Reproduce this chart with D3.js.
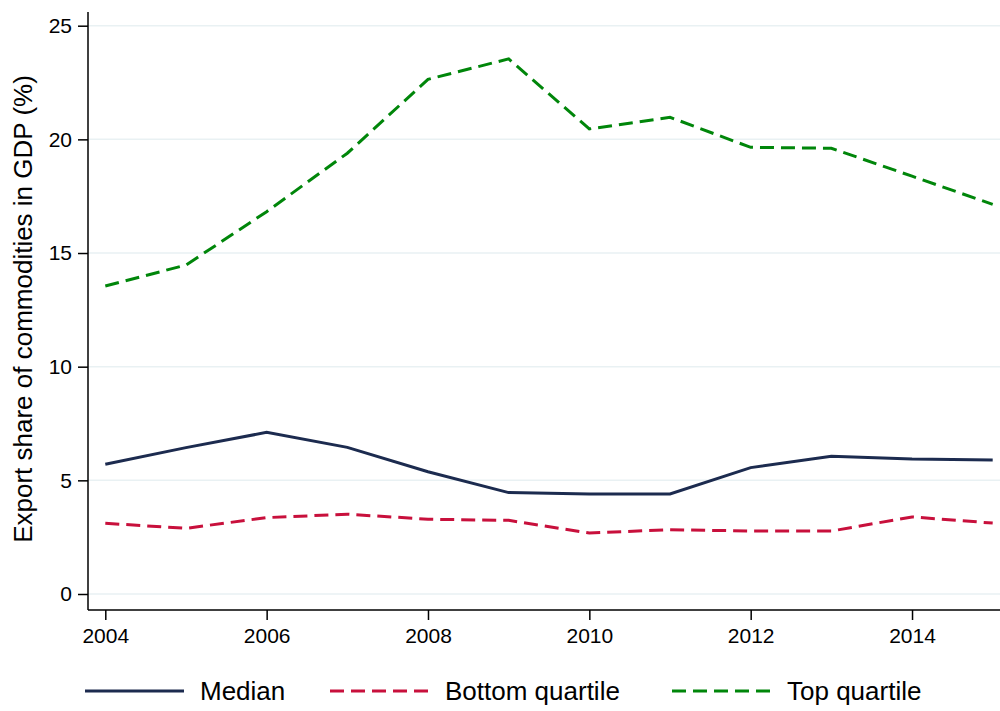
<!DOCTYPE html>
<html>
<head>
<meta charset="utf-8">
<script src="https://cdn.jsdelivr.net/npm/d3@7"></script>
<style>
  body { margin: 0; background: #fff; }
  text { font-family: "Liberation Sans", Arial, Helvetica, sans-serif; }
</style>
</head>
<body>
<script>
// chart data
let years = [2004, 2005, 2006, 2007, 2008, 2009, 2010, 2011, 2012, 2013, 2014, 2015]
let median = [5.71, 6.44, 7.11, 6.45, 5.38, 4.46, 4.40, 4.40, 5.56, 6.06, 5.94, 5.90]
let bottomQuartile = [3.11, 2.89, 3.36, 3.51, 3.29, 3.24, 2.68, 2.83, 2.77, 2.77, 3.39, 3.12]
let topQuartile = [13.55, 14.47, 16.82, 19.39, 22.64, 23.54, 20.46, 20.97, 19.65, 19.61, 18.38, 17.14]
let yTicks = [0, 5, 10, 15, 20, 25]
let xTicks = [2004, 2006, 2008, 2010, 2012, 2014]
let seriesNames = ['Median', 'Bottom quartile', 'Top quartile']

let
  width = 1000,
  height = 711;

let margin = {
  top: 12,
  bottom: 101,
  left: 88,
  right: 0
}

let svg = d3.select('body')
            .append('svg')
            .attr('width', width)
            .attr('height', height)

let xScale = d3.scaleLinear()
              .domain([2004, 2015])
              .range([105.3, 992.7])

let yScale = d3.scaleLinear()
              .domain([0, 25])
              .range([594, 25.7])

// gridlines
svg.append('g')
   .selectAll('line')
   .data(yTicks)
   .enter()
   .append('line')
   .attr('x1', margin.left)
   .attr('x2', width)
   .attr('y1', d => yScale(d))
   .attr('y2', d => yScale(d))
   .attr('stroke', '#e9f1f3')
   .attr('stroke-width', 1.5)

// axes
let yAxis = svg.append('g')
            .attr('transform', `translate(${margin.left}, 0)`)
            .call(d3.axisLeft(yScale).tickValues(yTicks).tickSize(10).tickPadding(6).tickSizeOuter(0))
yAxis.select('.domain').attr('d', `M0,${margin.top}V${height - margin.bottom}`)

let xAxis = svg.append('g')
            .attr('transform', `translate(0, ${height - margin.bottom})`)
            .call(d3.axisBottom(xScale).tickValues(xTicks).tickFormat(d3.format('d')).tickSize(10).tickPadding(8).tickSizeOuter(0))
xAxis.select('.domain').attr('d', `M${margin.left},0H${width}`)

svg.selectAll('.domain, .tick line')
   .attr('stroke', '#000')
   .attr('stroke-width', 1.5)
svg.selectAll('.tick text')
   .attr('fill', '#000')
   .style('font-size', '21px')

// y label
svg.append('text')
   .attr('transform', 'rotate(-90)')
   .attr('x', -309)
   .attr('y', 32)
   .text('Export share of commodities in GDP (%)')
   .style('text-anchor', 'middle')
   .style('font-size', '26px')

let series = [
  { name: seriesNames[0], values: median, color: '#1c2b4f', dash: null },
  { name: seriesNames[1], values: bottomQuartile, color: '#c8103c', dash: '14,7' },
  { name: seriesNames[2], values: topQuartile, color: '#00860a', dash: '14,7' }
]

let line = d3.line()
             .x((d, i) => xScale(years[i]))
             .y(d => yScale(d))

svg.selectAll('.series')
   .data(series)
   .enter()
   .append('path')
   .attr('class', 'series')
   .attr('d', d => line(d.values))
   .attr('fill', 'none')
   .attr('stroke', d => d.color)
   .attr('stroke-width', 3)
   .attr('stroke-dasharray', d => d.dash)

// legend
let legendX = [85, 330, 672]
let legend = svg.selectAll('.legend')
                .data(series)
                .enter()
                .append('g')
                .attr('class', 'legend')
                .attr('transform', (d, i) => `translate(${legendX[i]}, 691)`)
legend.append('line')
      .attr('x1', 0)
      .attr('x2', 99)
      .attr('stroke', d => d.color)
      .attr('stroke-width', 3)
      .attr('stroke-dasharray', d => d.dash)
legend.append('text')
      .attr('x', 115)
      .attr('y', 9)
      .text(d => d.name)
      .style('font-size', '26px')
</script>
</body>
</html>
